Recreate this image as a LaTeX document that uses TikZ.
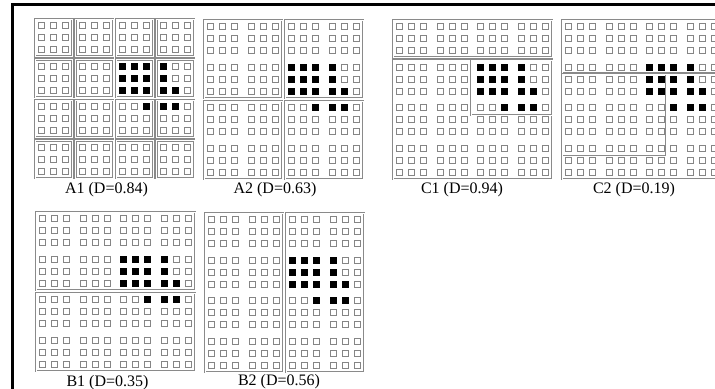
\documentclass[tikz,border=0pt]{standalone}
\usepackage{fontspec}
\setmainfont{Liberation Serif}
\usetikzlibrary{calc}
\definecolor{cCelda}{HTML}{858585}
\definecolor{cMarco}{HTML}{8A8A8A}
\definecolor{cActiva}{HTML}{000000}

\begin{document}
\begin{tikzpicture}[
    x=0.5pt, y=-0.5pt, font=\fontsize{8}{10}\selectfont,
    celda/.style={draw=cCelda, line width=0.45pt, fill=white},
    activa/.style={draw=cActiva, line width=0.45pt, fill=cActiva},
    marco/.style={draw=cMarco, line width=0.5pt, double=white,
                  double distance=0.4pt},
    borde/.style={draw=black, line width=1.5pt},
    lbl/.style={anchor=base, inner sep=0pt},
]
\useasboundingbox (0,0) rectangle (715,389);
\clip (0,0) rectangle (715,389);

% ===================== Marco exterior =====================
\draw[borde] (12,5) rectangle (740,410);

% ===================== Rejillas 12x12 =====================
\foreach \ox/\oy in {35/19, 204/20, 393/20, 562/20, 36/212, 205/213} {
    \foreach \bx in {0,...,3} \foreach \by in {0,...,3}
    \foreach \ix in {0,1,2} \foreach \iy in {0,1,2} {
        \draw[celda] ({\ox+40.5*\bx+3.5+12.2*\ix},{\oy+40.5*\by+3.5+12.2*\iy})
              rectangle ++(6,6);
    }
    % celdas activas (fila/columna)
    \foreach \r/\c in {3/6, 3/7, 3/8, 3/9, 4/6, 4/7, 4/8, 4/9,
                       5/6, 5/7, 5/8, 5/9, 5/10, 6/8, 6/9, 6/10} {
        \draw[activa] ({\ox+40.5*int(\c/3)+3.5+12.2*mod(\c,3)},
                       {\oy+40.5*int(\r/3)+3.5+12.2*mod(\r,3)})
              rectangle ++(6,6);
    }
}

% ===================== A1: bloques 3x3 =====================
\foreach \bx in {0,...,3} \foreach \by in {0,...,3} {
    \draw[marco] (35+40.5*\bx,19+40.5*\by) rectangle ++(37.5,37.5);
}
\node[lbl] (lblA1) at (106.5,194) {A1 (D=0.84)};

% ===================== A2: bloques 6x6 =====================
\foreach \bx in {0,1} \foreach \by in {0,1} {
    \draw[marco] (204+81*\bx,20+81*\by) rectangle ++(78,78);
}
\node[lbl] (lblA2) at (275,194) {A2 (D=0.63)};

% ===================== C1 =====================
\draw[marco] (393,20) rectangle (552,57.5);
\draw[marco] (393,60) rectangle (552,179);
\draw[marco] (471,60) rectangle (552,115);
\node[lbl] (lblC1) at (462,194) {C1 (D=0.94)};

% ===================== C2 =====================
\draw[marco] (562,20) rectangle (721,73);
\draw[marco] (562,74) rectangle (721,179);
\draw[marco] (562,74) rectangle (666,156);
\node[lbl] (lblC2) at (634,194) {C2 (D=0.19)};

% ===================== B1: franjas horizontales =====================
\foreach \by in {0,1} {
    \draw[marco] (36,212+81*\by) rectangle ++(159,78);
}
\node[lbl] (lblB1) at (107.5,386) {B1 (D=0.35)};

% ===================== B2: franjas verticales =====================
\foreach \bx in {0,1} {
    \draw[marco] (205+81*\bx,213) rectangle ++(78,159);
}
\node[lbl] (lblB2) at (279,385) {B2 (D=0.56)};

\end{tikzpicture}
\end{document}
